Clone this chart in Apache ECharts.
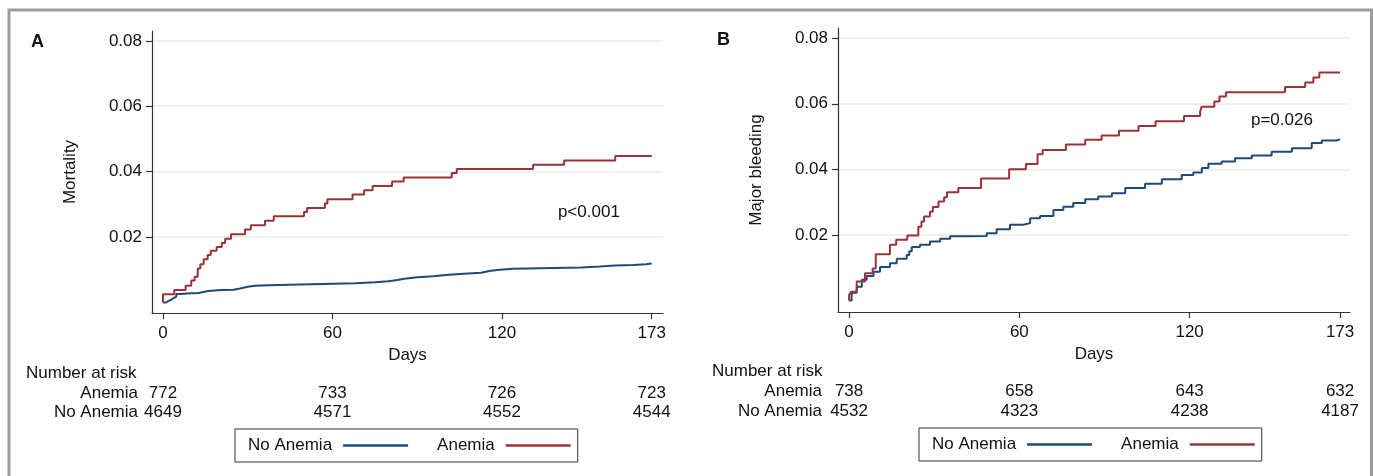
<!DOCTYPE html>
<html>
<head>
<meta charset="utf-8">
<script src="https://cdn.jsdelivr.net/npm/echarts@6.0.0/dist/echarts.min.js"></script>
<style>
html, body { margin: 0; padding: 0; background: #fff; }
#main { width: 1373px; height: 476px; }
</style>
</head>
<body>
<div id="main"></div>
<script>
// ticks and data
var dayTicks = [0, 60, 120, 173];
var yTicks = [0.02, 0.04, 0.06, 0.08];
var groups = ['No Anemia', 'Anemia'];

// A: mortality, [day, cumulative incidence]
var mortAnemia = [[0,0],[0,0.0025],[4,0.0038],[8,0.0051],[10,0.0067],[11.2,0.0079],[12.3,0.0104],[13.2,0.0117],[14.4,0.0132],[15.8,0.0145],[16.9,0.0158],[19,0.017],[20.8,0.0182],[22,0.0195],[24.1,0.0209],[29,0.0223],[31.1,0.0236],[36.1,0.025],[39.2,0.0264],[49.9,0.0277],[51,0.0289],[57.3,0.0303],[58.2,0.0316],[67.1,0.033],[71.2,0.0343],[74.2,0.0356],[81.1,0.037],[85.2,0.0382],[102.2,0.0396],[104,0.0408],[131,0.0421],[142,0.0434],[160.1,0.0448],[173,0.0448]];
var mortNoAnemia = [[0,0],[1,0.0004],[1.9,0.0008],[2.8,0.0013],[3.6,0.0018],[4.7,0.0026],[6,0.0028],[10,0.0029],[12.5,0.0032],[14.3,0.0035],[16,0.0038],[20.7,0.0039],[24.9,0.0043],[27.3,0.0048],[30,0.0051],[32.6,0.0053],[37.3,0.0056],[52.6,0.0059],[68,0.0062],[75,0.0065],[79.8,0.0069],[83,0.0073],[85.4,0.0077],[90,0.008],[95.7,0.0084],[100,0.0087],[105,0.0091],[112.5,0.0097],[116,0.01],[119.3,0.0103],[124,0.0107],[148,0.011],[154.7,0.0113],[160,0.0115],[166.5,0.0117],[171,0.0119],[173,0.012]];

// B: major bleeding
var bleedAnemia = [[0,0],[0,0.0017],[0.7,0.0027],[2.7,0.0058],[5.6,0.0083],[8.3,0.0098],[9.4,0.0141],[14.4,0.017],[16.6,0.0185],[20.5,0.0198],[24.4,0.0225],[25.5,0.0241],[26.4,0.0256],[28.5,0.0271],[29.5,0.0285],[31.5,0.0302],[33.5,0.0315],[34.5,0.033],[38.5,0.0343],[46.5,0.0372],[56.4,0.04],[62.3,0.0416],[66.4,0.0446],[68.2,0.0459],[76.4,0.0476],[83.2,0.049],[89,0.0503],[95.1,0.0518],[102,0.0532],[108,0.0547],[118,0.0563],[123.7,0.0576],[124.2,0.0591],[128.7,0.0607],[130.5,0.0622],[132.8,0.0635],[153.6,0.0651],[160.7,0.0665],[163.6,0.068],[165.7,0.0695],[173,0.0695]];
var bleedNoAnemia = [[0,0],[0.9,0.0024],[2.7,0.0042],[4.5,0.0063],[6.2,0.0075],[8.6,0.0088],[10.9,0.0102],[14.4,0.0114],[16.8,0.0127],[20.3,0.0139],[21.2,0.015],[22.1,0.0163],[25,0.017],[28.5,0.018],[32.1,0.0188],[35.6,0.0196],[41.5,0.0197],[48.5,0.0205],[52,0.0217],[56.7,0.0231],[61.4,0.0236],[63.8,0.0251],[67.3,0.0258],[72,0.0276],[75.5,0.0286],[79,0.0297],[83.2,0.0309],[87.8,0.0317],[92.6,0.0327],[97.3,0.0343],[104.3,0.0356],[110.2,0.037],[117.2,0.0383],[121.3,0.039],[124.3,0.0404],[126.6,0.0417],[131.3,0.0424],[136,0.0434],[141.9,0.0442],[148.9,0.0454],[156,0.0464],[163,0.048],[166.6,0.0488],[171.9,0.0492],[173,0.0492]];

// number at risk at dayTicks
var riskMortAnemia = [772, 733, 726, 723];
var riskMortNoAnemia = [4649, 4571, 4552, 4544];
var riskBleedAnemia = [738, 658, 643, 632];
var riskBleedNoAnemia = [4532, 4323, 4238, 4187];

var FONT = '"Liberation Sans", Arial, Helvetica, sans-serif';
var TXT = '#111';
var BLUE = '#1f4a78';
var RED = '#9a3338';

var chart = echarts.init(document.getElementById('main'));

function xAxisOpt(g, min, max) {
  return {
    type: 'value', gridIndex: g, min: min, max: max,
    name: 'Days', nameLocation: 'middle', nameGap: 30,
    nameTextStyle: { fontSize: 17, color: TXT, fontFamily: FONT },
    axisLine: { onZero: false, lineStyle: { color: '#333', width: 1.2 } },
    axisTick: { customValues: dayTicks, length: 6, lineStyle: { color: '#333', width: 1.2 } },
    axisLabel: { customValues: dayTicks, margin: 12, fontSize: 17, color: TXT, fontFamily: FONT },
    splitLine: { show: false }
  };
}
function yAxisOpt(g, name, min, max) {
  return {
    type: 'value', gridIndex: g, min: min, max: max,
    name: name, nameLocation: 'middle', nameGap: 73, nameRotate: 90,
    nameTextStyle: { fontSize: 17, color: TXT, fontFamily: FONT },
    axisLine: { show: true, onZero: false, lineStyle: { color: '#333', width: 1.2 } },
    axisTick: { show: true, customValues: yTicks, length: 6, lineStyle: { color: '#333', width: 1.2 } },
    axisLabel: { customValues: yTicks, margin: 10, fontSize: 17, color: TXT, fontFamily: FONT,
      formatter: function (v) { return v.toFixed(2); } },
    splitLine: { show: true, lineStyle: { color: '#e4edf0', width: 1.5 } }
  };
}
function line(name, color, data, g) {
  return {
    name: name, type: 'line', step: 'end', data: data,
    xAxisIndex: g, yAxisIndex: g, symbol: 'none', showSymbol: false,
    color: color, lineStyle: { color: color, width: 2 }, silent: true
  };
}
function legendOpt(left, top) {
  return {
    data: groups, left: left, top: top, orient: 'horizontal', align: 'right',
    icon: 'rect', itemWidth: 65, itemHeight: 2.5, itemGap: 29,
    padding: [8, 7, 8, 13], borderColor: '#333', borderWidth: 1, borderRadius: 0,
    textStyle: { fontSize: 17, color: TXT, fontFamily: FONT, padding: [0, 6, 0, 0] },
    selectedMode: false
  };
}

chart.setOption({
  animation: false,
  backgroundColor: '#fff',
  grid: [
    { left: 152, top: 31, width: 511, height: 282 },
    { left: 838, top: 28, width: 512, height: 284 }
  ],
  xAxis: [xAxisOpt(0, -3.9, 177), xAxisOpt(1, -3.9, 176.5)],
  yAxis: [yAxisOpt(0, 'Mortality', -0.0032, 0.083), yAxisOpt(1, 'Major bleeding', -0.0035, 0.0831)],
  legend: [legendOpt(235, 429), legendOpt(919, 428)],
  series: [
    line('No Anemia', BLUE, mortNoAnemia, 0),
    line('Anemia', RED, mortAnemia, 0),
    line('No Anemia', BLUE, bleedNoAnemia, 1),
    line('Anemia', RED, bleedAnemia, 1)
  ]
});

function txt(x, y, s, align, extra) {
  var st = { text: s, font: '17px ' + FONT, fill: TXT,
    align: align, textAlign: align, verticalAlign: 'middle', textVerticalAlign: 'middle' };
  if (extra) st.font = extra;
  return { type: 'text', x: x, y: y, style: st, silent: true };
}

var els = [];
// outer frame
els.push({ type: 'polyline', shape: { points: [[9, 476], [9, 10], [1371.5, 10], [1371.5, 476]] },
  style: { stroke: '#9c9c9e', lineWidth: 3, fill: null }, silent: true });

// panel letters
els.push(txt(31, 42, 'A', 'left', 'bold 18px ' + FONT));
els.push(txt(717, 40, 'B', 'left', 'bold 18px ' + FONT));

// p values at data positions
var pA = chart.convertToPixel({ xAxisIndex: 0, yAxisIndex: 0 }, [139.8, 0.0276]);
els.push(txt(pA[0], pA[1], 'p<0.001', 'left'));
var pB = chart.convertToPixel({ xAxisIndex: 1, yAxisIndex: 1 }, [141.6, 0.0551]);
els.push(txt(pB[0], pB[1], 'p=0.026', 'left'));

// number at risk tables
function riskTable(g, headX, labelX, rows, anem, noAnem) {
  els.push(txt(headX, rows[0], 'Number at risk', 'left'));
  els.push(txt(labelX, rows[1], 'Anemia', 'right'));
  els.push(txt(labelX, rows[2], 'No Anemia', 'right'));
  for (var i = 0; i < dayTicks.length; i++) {
    var x = chart.convertToPixel({ xAxisIndex: g }, dayTicks[i]);
    els.push(txt(x, rows[1], String(anem[i]), 'center'));
    els.push(txt(x, rows[2], String(noAnem[i]), 'center'));
  }
}
riskTable(0, 26, 138, [373, 393, 412], riskMortAnemia, riskMortNoAnemia);
riskTable(1, 712, 822, [371, 391, 411], riskBleedAnemia, riskBleedNoAnemia);

chart.setOption({ graphic: { elements: els } });
</script>
</body>
</html>
